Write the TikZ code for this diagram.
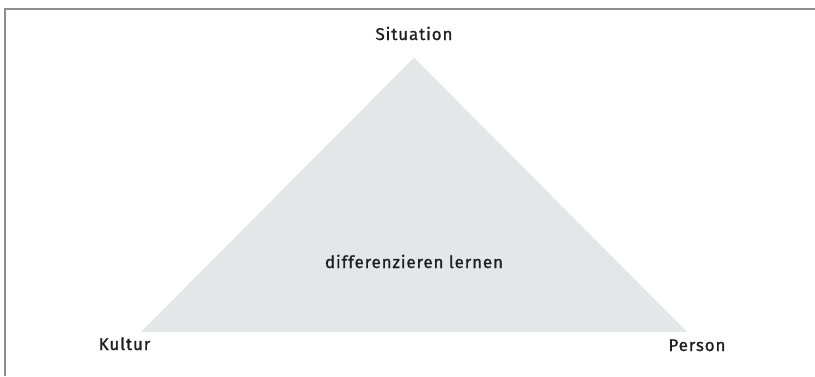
\documentclass[tikz,border=0pt]{standalone}
\usepackage{fontspec}
\setmainfont{Fira Sans}[LetterSpace=5,FakeBold=0.9]
\definecolor{framegray}{HTML}{8E8E8E}
\definecolor{trifill}{HTML}{E5E6E8}
\definecolor{labeltext}{HTML}{1E1E1E}
\begin{document}
\begin{tikzpicture}[x=1pt,y=-1pt,
  label/.style={anchor=base,inner sep=0pt,text=labeltext,font=\fontsize{17}{20}\selectfont}]
\useasboundingbox (0,0) rectangle (815,376);
% open frame: top and left edges only
\draw[framegray,line width=1.6pt] (5,376) -- (5,9) -- (815,9);
% triangle corners
\coordinate (top) at (414,57.5);
\coordinate (left) at (141,332);
\coordinate (right) at (687,332);
\fill[trifill] (top) -- (left) -- (right) -- cycle;
% labels
\node[label] (situation) at (414,40) {Situation};
\node[label] (kultur) at (124.5,350) {Kultur};
\node[label] (person) at (697,351) {Person};
\node[label] (centre) at (414,268) {differenzieren lernen};
\end{tikzpicture}
\end{document}
